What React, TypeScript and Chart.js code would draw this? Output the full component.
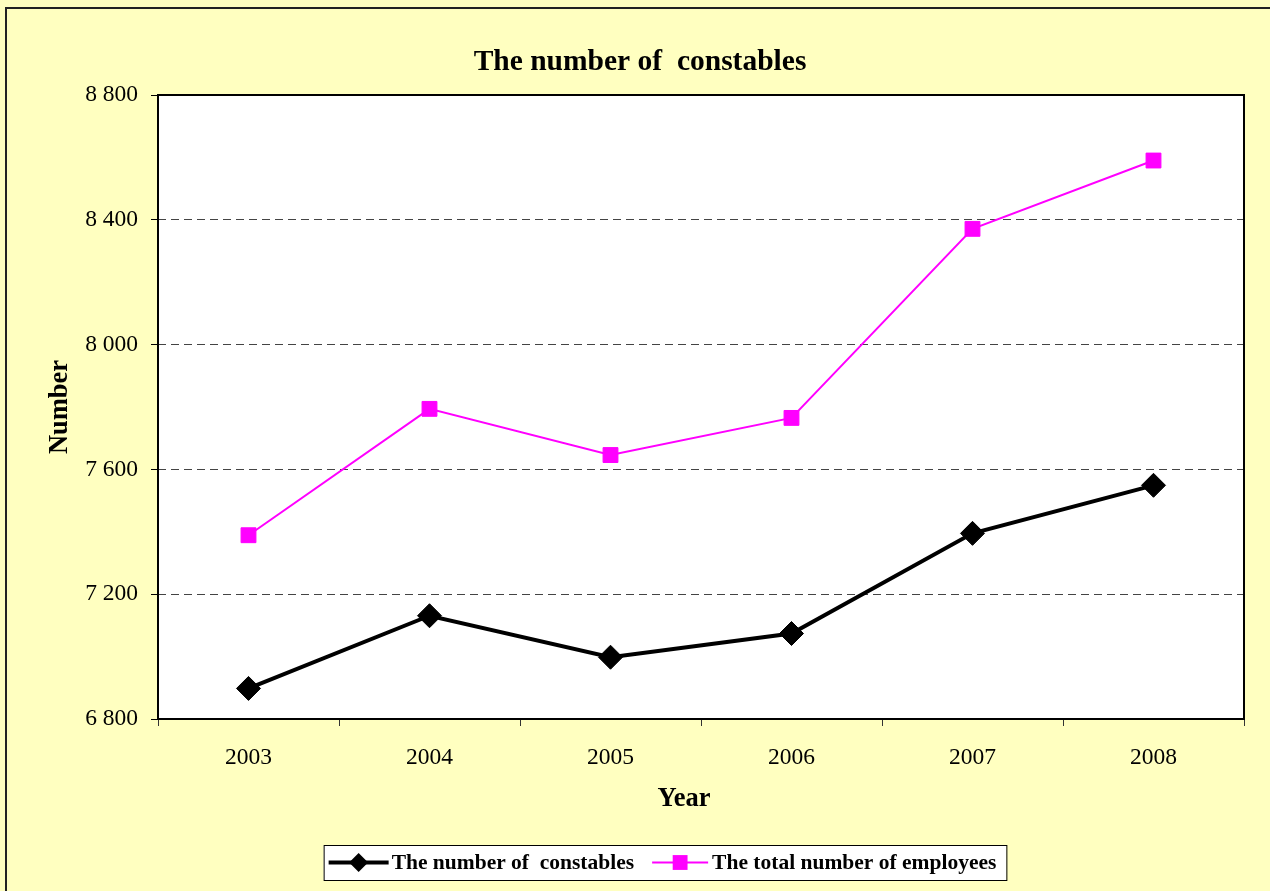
import React, { useEffect, useRef } from 'react';
import { Chart, registerables } from 'chart.js';

Chart.register(...registerables);

const years = ['2003', '2004', '2005', '2006', '2007', '2008'];
const constables = [6898, 7131, 6998, 7074, 7395, 7549];
const employees = [7389, 7794, 7646, 7765, 8371, 8590];
const yMin = 6800;
const yMax = 8800;
const yStep = 400;
const chartTitle = 'The number of  constables';
const xTitle = 'Year';
const yTitle = 'Number';
const seriesNames = ['The number of  constables', 'The total number of employees'];

const SERIF = '"Times New Roman", "Liberation Serif", serif';
const BG = '#FFFFC0';

function fmt(v: number): string {
  return String(v).replace(/\B(?=(\d{3})+(?!\d))/g, ' ');
}

function drawMarker(ctx: CanvasRenderingContext2D, style: string, x: number, y: number, r: number, color: string) {
  ctx.save();
  ctx.fillStyle = color;
  ctx.beginPath();
  if (style === 'rectRot') {
    ctx.moveTo(x - r, y);
    ctx.lineTo(x, y - r);
    ctx.lineTo(x + r, y);
    ctx.lineTo(x, y + r);
    ctx.closePath();
  } else {
    const s = Math.SQRT1_2 * r;
    ctx.rect(x - s, y - s, 2 * s, 2 * s);
  }
  ctx.fill();
  ctx.restore();
}

const decor = {
  id: 'decor',
  beforeDraw(chart: any) {
    const { ctx, chartArea: a, width, height } = chart;
    ctx.save();
    ctx.fillStyle = BG;
    ctx.fillRect(0, 0, width, height);
    ctx.strokeStyle = '#222';
    ctx.lineWidth = 2;
    ctx.beginPath();
    ctx.moveTo(6, height + 5);
    ctx.lineTo(6, 8);
    ctx.lineTo(width + 5, 8);
    ctx.stroke();
    ctx.fillStyle = '#ffffff';
    ctx.fillRect(a.left, a.top, a.right - a.left, a.bottom - a.top);
    ctx.restore();
  },
  afterDraw(chart: any) {
    const { ctx, chartArea: a } = chart;
    ctx.save();
    // plot border
    ctx.strokeStyle = '#000';
    ctx.lineWidth = 2;
    ctx.strokeRect(a.left, a.top, a.right - a.left, a.bottom - a.top);

    // title
    ctx.fillStyle = '#000';
    ctx.textAlign = 'center';
    ctx.textBaseline = 'middle';
    ctx.font = `bold 29.5px ${SERIF}`;
    ctx.fillText(chartTitle, 640, 62);

    // axis titles
    ctx.font = `bold 26.5px ${SERIF}`;
    ctx.fillText(xTitle, 684, 799);
    ctx.save();
    ctx.translate(60, (a.top + a.bottom) / 2);
    ctx.rotate(-Math.PI / 2);
    ctx.fillText(yTitle, 0, 0);
    ctx.restore();

    // legend
    const ds = chart.data.datasets;
    ctx.font = `bold 21.5px ${SERIF}`;
    const w1 = ctx.measureText(ds[0].label).width;
    const w2 = ctx.measureText(ds[1].label).width;
    const padL = 5, s1 = 60, g1 = 3, gap = 18, s2 = 56, g2 = 4, padR = 10;
    const total = padL + s1 + g1 + w1 + gap + s2 + g2 + w2 + padR;
    const bx = 665 - total / 2;
    const by = 845;
    const bh = 35;
    const cy = by + bh / 2;
    ctx.fillStyle = '#ffffff';
    ctx.fillRect(bx, by, total, bh);
    ctx.strokeStyle = '#000';
    ctx.lineWidth = 1;
    ctx.strokeRect(bx + 0.5, by + 0.5, total, bh);

    let x = bx + padL;
    const items = [
      { d: ds[0], sw: s1, g: g1, w: w1, r: 9.5 },
      { d: ds[1], sw: s2, g: g2, w: w2, r: 10.5 },
    ];
    items.forEach((it, i) => {
      ctx.strokeStyle = it.d.borderColor;
      ctx.lineWidth = it.d.borderWidth;
      ctx.beginPath();
      ctx.moveTo(x, cy);
      ctx.lineTo(x + it.sw, cy);
      ctx.stroke();
      drawMarker(ctx, it.d.pointStyle, x + it.sw / 2, cy, it.r, it.d.pointBackgroundColor);
      x += it.sw + it.g;
      ctx.fillStyle = '#000';
      ctx.textAlign = 'left';
      ctx.textBaseline = 'middle';
      ctx.fillText(it.d.label, x, cy + 1);
      x += it.w + (i === 0 ? gap : 0);
    });
    ctx.restore();
  },
};

export default function App() {
  const ref = useRef<HTMLCanvasElement>(null);

  useEffect(() => {
    const canvas = ref.current;
    if (!canvas) return;
    const chart = new Chart(canvas, {
      type: 'line',
      data: {
        labels: years,
        datasets: [
          {
            label: seriesNames[0],
            data: constables,
            borderColor: '#000000',
            backgroundColor: '#000000',
            pointBackgroundColor: '#000000',
            pointBorderColor: '#000000',
            borderWidth: 4,
            pointStyle: 'rectRot',
            pointRadius: 12,
            pointHoverRadius: 12,
            pointBorderWidth: 1,
            tension: 0,
          },
          {
            label: seriesNames[1],
            data: employees,
            borderColor: '#FF00FF',
            backgroundColor: '#FF00FF',
            pointBackgroundColor: '#FF00FF',
            pointBorderColor: '#FF00FF',
            borderWidth: 2,
            pointStyle: 'rect',
            pointRadius: 10.5,
            pointHoverRadius: 10.5,
            pointBorderWidth: 1,
            tension: 0,
          },
        ],
      },
      options: {
        responsive: false,
        maintainAspectRatio: false,
        animation: false,
        events: [],
        layout: { padding: { left: 0, right: 26, top: 95, bottom: 0 } },
        plugins: {
          legend: { display: false },
          title: { display: false },
          tooltip: { enabled: false },
        },
        scales: {
          x: {
            type: 'category',
            offset: true,
            grid: {
              offset: true,
              drawOnChartArea: false,
              drawTicks: true,
              tickLength: 7,
              tickColor: '#333',
              tickWidth: 1,
            },
            border: { display: false },
            ticks: {
              color: '#000',
              padding: 18,
              font: { family: SERIF, size: 23.5 },
              maxRotation: 0,
            },
            afterFit(scale: any) {
              scale.height = 891 - 719;
            },
          },
          y: {
            min: yMin,
            max: yMax,
            grid: {
              color: '#444',
              lineWidth: 1,
              drawTicks: true,
              tickLength: 7,
              tickColor: '#000',
              tickWidth: 1,
              tickBorderDash: [],
            },
            border: { display: false, dash: [8, 5] },
            ticks: {
              stepSize: yStep,
              color: '#000',
              padding: 13,
              font: { family: SERIF, size: 23.5 },
              callback: (v: any) => fmt(Number(v)),
            },
            afterFit(scale: any) {
              scale.width = 158;
            },
          },
        },
      },
      plugins: [decor],
    });
    return () => chart.destroy();
  }, []);

  return (
    <div style={{ position: 'fixed', left: 0, top: 0, width: 1270, height: 891, background: BG }}>
      <canvas ref={ref} width={1270} height={891} style={{ display: 'block' }} />
    </div>
  );
}
